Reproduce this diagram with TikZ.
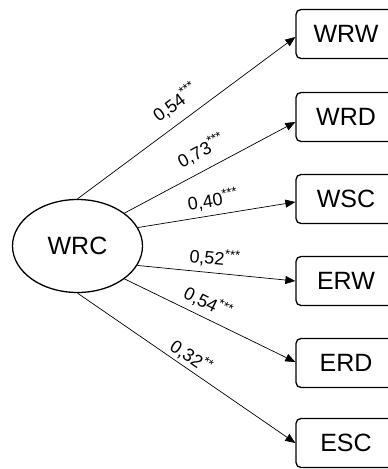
\documentclass[tikz,border=0pt]{standalone}
\usepackage{fontspec}
\setmainfont{Liberation Sans}
\usetikzlibrary{arrows.meta,shapes.geometric}

% significance stars set as a small raised superscript
\newcommand\sigstars[1]{\raisebox{7pt}{\fontsize{13}{13}\selectfont #1}}

\begin{document}
\begin{tikzpicture}[x=1pt,y=1pt,
  latent/.style={ellipse, draw, line width=1.3pt, minimum width=130pt,
    minimum height=93pt, inner sep=0pt, font=\fontsize{25}{30}\selectfont},
  observed/.style={rectangle, rounded corners=5pt, draw, line width=1.3pt,
    minimum width=100pt, minimum height=49pt, inner sep=0pt,
    font=\fontsize{25}{30}\selectfont},
  loading/.style={draw, line width=0.7pt, -{Triangle[length=10pt,width=8pt]}},
  coef/.style={sloped, inner sep=0pt, text height=13pt, text depth=0pt,
    font=\fontsize{18}{20}\selectfont},
]
\clip (0,0) rectangle (388,469);

% latent factor
\node[latent] (wrc) at (77.5,223) {WRC};

% indicators
\node[observed] (wrw) at (346,435) {WRW};
\node[observed] (wrd) at (346,352) {WRD};
\node[observed] (wsc) at (346,270) {WSC};
\node[observed] (erw) at (346,188) {ERW};
\node[observed] (erd) at (346,106) {ERD};
\node[observed] (esc) at (346,26) {ESC};

% standardized loadings
\draw[loading] (wrc.90) -- node[coef, pos=.5, above=12pt] {0,54\sigstars{***}} ([yshift=-3pt]wrw.west);
\draw[loading] (wrc.35) -- node[coef, pos=.5, above=12pt] {0,73\sigstars{***}} ([yshift=-5pt]wrd.west);
\draw[loading] (wrc.17) -- node[coef, pos=.49, above=8pt] {0,40\sigstars{***}} ([yshift=-3pt]wsc.west);
\draw[loading] (wrc.-18) -- node[coef, pos=.48, above=8pt] {0,52\sigstars{***}} (erw.west);
\draw[loading] (wrc.-35) -- node[coef, pos=.45, above=8pt] {0,54\sigstars{***}} ([yshift=1pt]erd.west);
\draw[loading] (wrc.-90) -- node[coef, pos=.49, above=5pt] {0,32\sigstars{**}} (esc.west);
\end{tikzpicture}
\end{document}
